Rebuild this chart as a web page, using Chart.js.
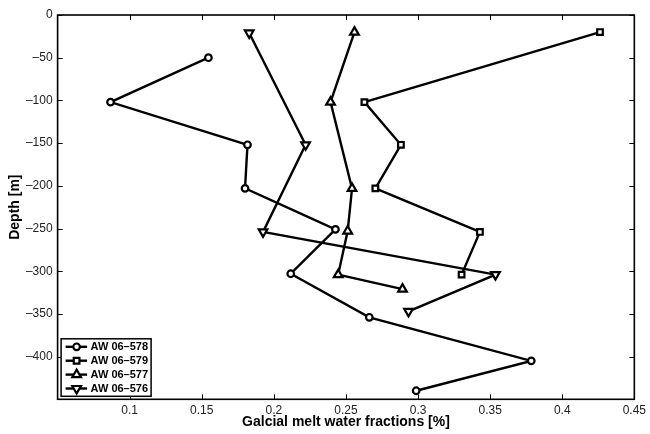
<!DOCTYPE html>
<html><head><meta charset="utf-8">
<script src="https://cdn.jsdelivr.net/npm/chart.js@4"></script>
<style>html,body{margin:0;padding:0;background:#fff}#wrap{width:650px;height:434px}</style>
</head><body><div id="wrap"><canvas id="c" width="650" height="434"></canvas></div>
<script>
const seriesNames = ['AW 06\u2013578', 'AW 06\u2013579', 'AW 06\u2013577', 'AW 06\u2013576'];
const x578 = [0.1546, 0.0867, 0.1817, 0.1800, 0.2427, 0.2117, 0.2662, 0.3785, 0.2987];
const y578 = [-50, -102, -152, -203, -251, -303, -354, -405, -440];
const x579 = [0.4262, 0.2628, 0.2881, 0.2704, 0.3429, 0.3302];
const y579 = [-20, -102, -152, -203, -254, -304];
const x577 = [0.2559, 0.2393, 0.2542, 0.2512, 0.2446, 0.2892];
const y577 = [-20, -102, -203, -253, -304, -321];
const x576 = [0.1829, 0.2220, 0.1925, 0.3537, 0.2934];
const y576 = [-21, -152, -254, -304, -347];
const xTicks = [0.1, 0.15, 0.2, 0.25, 0.3, 0.35, 0.4, 0.45];
const yTicks = [0, -50, -100, -150, -200, -250, -300, -350, -400];
const xLabel = 'Galcial melt water fractions [%]';
const yLabel = 'Depth [m]';

const FONT = '"Liberation Sans", Arial, Helvetica, sans-serif';

function pts(xs, ys) { return xs.map((x, i) => ({ x: x, y: ys[i] })); }

const styles = [
  { pointStyle: 'circle', radius: 3.3, rotation: 0 },
  { pointStyle: 'rect', radius: 4, rotation: 0 },
  { pointStyle: 'triangle', radius: 5, rotation: 0 },
  { pointStyle: 'triangle', radius: 5, rotation: 180 }
];
const allData = [pts(x578, y578), pts(x579, y579), pts(x577, y577), pts(x576, y576)];

const datasets = seriesNames.map((name, i) => ({
  label: name,
  data: allData[i],
  showLine: true,
  borderColor: '#000',
  borderWidth: 2.4,
  tension: 0,
  pointStyle: styles[i].pointStyle,
  pointRadius: styles[i].radius,
  pointRotation: styles[i].rotation,
  pointBorderWidth: 2.2,
  pointBorderColor: '#000',
  pointBackgroundColor: '#fff'
}));

function drawMarker(ctx, style, x, y, r, rot) {
  ctx.save();
  ctx.translate(x, y);
  ctx.rotate(rot * Math.PI / 180);
  ctx.beginPath();
  if (style === 'circle') {
    ctx.arc(0, 0, r, 0, Math.PI * 2);
  } else if (style === 'rect') {
    const s = r * Math.SQRT1_2;
    ctx.rect(-s, -s, 2 * s, 2 * s);
  } else {
    for (let k = 0; k < 3; k++) {
      const a = -Math.PI / 2 + k * 2 * Math.PI / 3;
      const px = Math.cos(a) * r, py = Math.sin(a) * r;
      if (k === 0) ctx.moveTo(px, py); else ctx.lineTo(px, py);
    }
    ctx.closePath();
  }
  ctx.fillStyle = '#fff';
  ctx.fill();
  ctx.lineWidth = 2.2;
  ctx.strokeStyle = '#000';
  ctx.stroke();
  ctx.restore();
}

const framePlugin = {
  id: 'frame',
  afterDatasetsDraw(chart) {
    const ctx = chart.ctx;
    const a = chart.chartArea;
    const xs = chart.scales.x, ys = chart.scales.y;
    ctx.save();
    ctx.strokeStyle = '#000';
    ctx.lineWidth = 1.6;
    ctx.strokeRect(a.left, a.top, a.right - a.left, a.bottom - a.top);
    const tl = 5;
    ctx.lineWidth = 1;
    ctx.beginPath();
    xTicks.forEach(v => {
      const px = Math.round(xs.getPixelForValue(v)) + 0.5;
      ctx.moveTo(px, a.bottom); ctx.lineTo(px, a.bottom - tl);
      ctx.moveTo(px, a.top); ctx.lineTo(px, a.top + tl);
    });
    yTicks.forEach(v => {
      const py = Math.round(ys.getPixelForValue(v)) + 0.5;
      ctx.moveTo(a.left, py); ctx.lineTo(a.left + tl, py);
      ctx.moveTo(a.right, py); ctx.lineTo(a.right - tl, py);
    });
    ctx.stroke();

    // legend box inside the axes, lower left
    const bx = a.left + 3.5, bw = 90, bh = 57.5;
    const by = a.bottom - 3 - bh;
    ctx.fillStyle = '#fff';
    ctx.fillRect(bx, by, bw, bh);
    ctx.lineWidth = 1.5;
    ctx.strokeRect(bx, by, bw, bh);
    ctx.font = 'bold 11px ' + FONT;
    ctx.textBaseline = 'middle';
    ctx.textAlign = 'left';
    chart.data.datasets.forEach((ds, i) => {
      const cy = by + 8 + i * 13.9;
      ctx.beginPath();
      ctx.lineWidth = 2.4;
      ctx.strokeStyle = '#000';
      ctx.moveTo(bx + 4.5, cy); ctx.lineTo(bx + 26, cy);
      ctx.stroke();
      drawMarker(ctx, ds.pointStyle, bx + 15.5, cy, ds.pointRadius, ds.pointRotation);
      ctx.fillStyle = '#000';
      ctx.fillText(ds.label, bx + 29.5, cy + 0.5);
    });
    ctx.restore();
  }
};

new Chart(document.getElementById('c'), {
  type: 'scatter',
  data: { datasets: datasets },
  plugins: [framePlugin],
  options: {
    responsive: false,
    devicePixelRatio: 1,
    animation: false,
    layout: { padding: { left: 0, right: 13, top: 15, bottom: 0 } },
    plugins: { legend: { display: false }, tooltip: { enabled: false } },
    scales: {
      x: {
        type: 'linear',
        min: 0.05, max: 0.45,
        afterBuildTicks: s => { s.ticks = xTicks.map(v => ({ value: v })); },
        afterFit: s => { s.height = 34.7; },
        grid: { display: false, drawTicks: false, tickLength: 0 },
        border: { display: false },
        ticks: {
          font: { family: FONT, size: 12 }, color: '#222', padding: 4,
          maxRotation: 0, autoSkip: false,
          callback: v => String(Math.round(v * 100) / 100)
        },
        title: { display: true, text: xLabel, color: '#000',
          font: { family: FONT, size: 14, weight: 'bold' }, padding: { top: 0, bottom: 3 } }
      },
      y: {
        type: 'linear',
        min: -450, max: 0,
        afterBuildTicks: s => { s.ticks = yTicks.map(v => ({ value: v })); },
        afterFit: s => { s.width = 57.6; },
        grid: { display: false, drawTicks: false, tickLength: 0 },
        border: { display: false },
        ticks: {
          font: { family: FONT, size: 12 }, color: '#222', padding: 5, autoSkip: false,
          callback: v => String(v).replace('-', '\u2013')
        },
        title: { display: true, text: yLabel, color: '#000',
          font: { family: FONT, size: 14, weight: 'bold' }, padding: { top: 7, bottom: 0 } }
      }
    }
  }
});
</script>
</body></html>
